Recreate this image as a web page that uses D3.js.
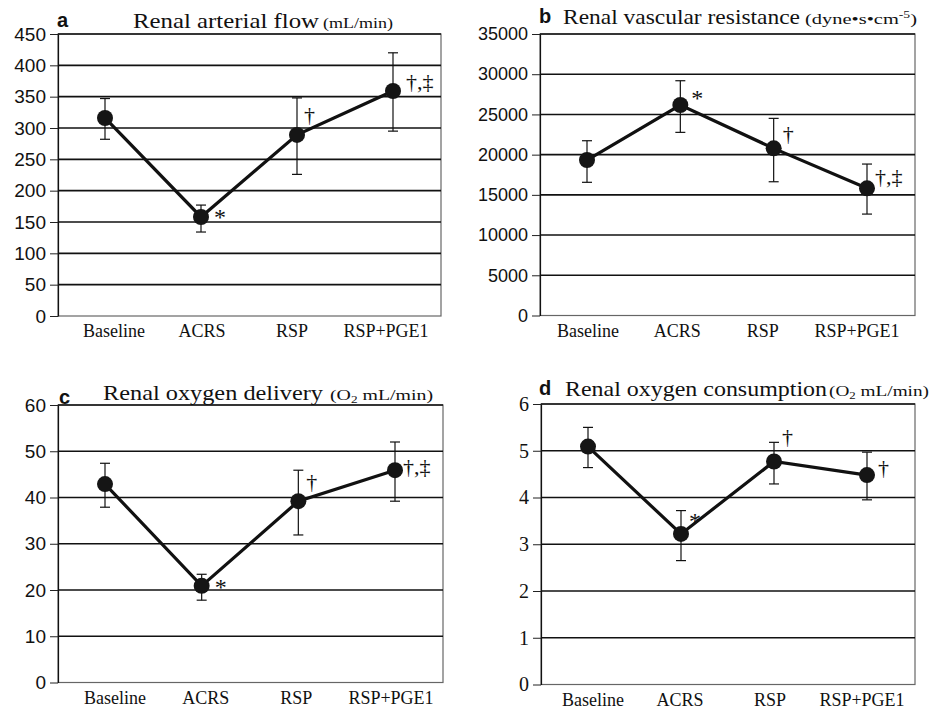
<!DOCTYPE html>
<html>
<head>
<meta charset="utf-8">
<script src="https://cdn.jsdelivr.net/npm/d3@7"></script>
<style>
	body { margin: 0; background: #fff; }
	svg { display: block; }
</style>
</head>
<body>
<div id="chart"></div>
<script>
// categories shared by every panel
const categories = ["Baseline", "ACRS", "RSP", "RSP+PGE1"];

// a: renal arterial flow (mL/min)
const flowMean = [316, 158, 289, 359];
const flowHigh = [347, 177, 348, 420];
const flowLow  = [282, 134, 226, 295];
const flowMarks = ["", "*", "\u2020", "\u2020,\u2021"];
const flowTicks = [0, 50, 100, 150, 200, 250, 300, 350, 400, 450];

// b: renal vascular resistance (dyne s cm-5)
const resMean = [19330, 26170, 20780, 15810];
const resHigh = [21730, 29190, 24510, 18830];
const resLow  = [16560, 22770, 16630, 12610];
const resMarks = ["", "*", "\u2020", "\u2020,\u2021"];
const resTicks = [0, 5000, 10000, 15000, 20000, 25000, 30000, 35000];

// c: renal oxygen delivery (O2 mL/min)
const delMean = [42.9, 20.9, 39.2, 45.9];
const delHigh = [47.4, 23.4, 45.9, 52.0];
const delLow  = [37.9, 17.8, 31.9, 39.2];
const delMarks = ["", "*", "\u2020", "\u2020,\u2021"];
const delTicks = [0, 10, 20, 30, 40, 50, 60];

// d: renal oxygen consumption (O2 mL/min)
const conMean = [5.09, 3.22, 4.77, 4.48];
const conHigh = [5.50, 3.72, 5.18, 4.97];
const conLow  = [4.64, 2.65, 4.29, 3.95];
const conMarks = ["", "*", "\u2020", "\u2020"];
const conTicks = [0, 1, 2, 3, 4, 5, 6];

function main() {

	const W = 944, H = 710;
	const serif = "'Liberation Serif', 'Times New Roman', serif";
	const sans  = "'Liberation Sans', Arial, sans-serif";

	var svg = d3.select("#chart")
		.append("svg")
		.attr("width", W)
		.attr("height", H);

	// layout of each panel
	var panels = [
		{letter: "a", title: "Renal arterial flow", units: [["(mL/min)", ""]],
			mean: flowMean, high: flowHigh, low: flowLow, marks: flowMarks, ticks: flowTicks,
			left: 58, right: 441, top: 34, bottom: 316, tickFont: sans, tickSize: 19,
			letterX: 57, letterY: 27, titleX: 133, titleW: 186, unitsX: 323, unitsW: 70, titleY: 28,
			labelShift: [9, 1, -5, -7],
			markOff: [[0, 0], [13, 8], [7, -13], [13, -2]]},
		{letter: "b", title: "Renal vascular resistance", units: [["(dyne\u2022s\u2022cm", ""], ["-5", "sup"], [")", ""]],
			mean: resMean, high: resHigh, low: resLow, marks: resMarks, ticks: resTicks,
			left: 540, right: 915, top: 34, bottom: 315.5, tickFont: sans, tickSize: 18,
			letterX: 539, letterY: 23, titleX: 563, titleW: 237, unitsX: 805, unitsW: 112, titleY: 24,
			labelShift: [1, -3, -11, -10],
			markOff: [[0, 0], [11, 1], [9, -7], [8, -4]]},
		{letter: "c", title: "Renal oxygen delivery", units: [["(O", ""], ["2", "sub"], [" mL/min)", ""]],
			mean: delMean, high: delHigh, low: delLow, marks: delMarks, ticks: delTicks,
			left: 58, right: 443, top: 405, bottom: 682.5, tickFont: sans, tickSize: 19,
			letterX: 59, letterY: 404, titleX: 103, titleW: 220, unitsX: 330, unitsW: 103, titleY: 400,
			labelShift: [10, 4, -2, -4],
			markOff: [[0, 0], [13, 9], [8, -12], [8, 4]]},
		{letter: "d", title: "Renal oxygen consumption", units: [["(O", ""], ["2", "sub"], [" mL/min)", ""]],
			mean: conMean, high: conHigh, low: conLow, marks: conMarks, ticks: conTicks,
			left: 541, right: 915, top: 404, bottom: 684.5, tickFont: serif, tickSize: 20,
			letterX: 539, letterY: 395, titleX: 565, titleW: 262, unitsX: 829, unitsW: 100, titleY: 396,
			labelShift: [5, -1, -4, -5],
			markOff: [[0, 0], [8, -5], [8, -18], [11, 0]]}
	];

	panels.forEach(function(p) {

		var x = d3.scalePoint()
			.domain(categories)
			.range([p.left + 47, p.right - 48]);

		var y = d3.scaleLinear()
			.domain([0, d3.max(p.ticks)])
			.range([p.bottom, p.top]);

		var g = svg.append("g");

		// frame
		g.append("rect")
			.attr("x", p.left)
			.attr("y", p.top)
			.attr("width", p.right - p.left)
			.attr("height", p.bottom - p.top)
			.attr("fill", "none")
			.attr("stroke", "#666")
			.attr("stroke-width", 1.2);

		// horizontal grid lines
		g.selectAll(".grid")
			.data(p.ticks.filter(function(t) { return t > 0; }))
			.enter()
			.append("line")
			.attr("x1", p.left)
			.attr("x2", p.right)
			.attr("y1", function(d) { return y(d); })
			.attr("y2", function(d) { return y(d); })
			.attr("stroke", "#111")
			.attr("stroke-width", 1.6);

		// y axis
		var yAxis = g.append("g")
			.attr("transform", "translate(" + p.left + ",0)")
			.call(d3.axisLeft(y).tickValues(p.ticks).tickSize(8).tickPadding(4).tickSizeOuter(0).tickFormat(d3.format("d")));
		yAxis.select(".domain").attr("stroke", "#111").attr("stroke-width", 1.2);
		yAxis.selectAll(".tick line").attr("stroke", "#222").attr("stroke-width", 1);
		yAxis.selectAll(".tick text")
			.attr("font-family", p.tickFont)
			.attr("font-size", p.tickSize)
			.attr("fill", "#111");

		// category labels
		g.selectAll(".cat")
			.data(categories)
			.enter()
			.append("text")
			.attr("x", function(d, i) { return x(d) + p.labelShift[i]; })
			.attr("y", p.bottom + 21)
			.attr("text-anchor", "middle")
			.attr("font-family", serif)
			.attr("font-size", 18)
			.attr("fill", "#111")
			.text(function(d) { return d; });

		// error bars
		var bars = g.selectAll(".err")
			.data(categories)
			.enter()
			.append("g");
		bars.append("line")
			.attr("x1", function(d) { return x(d); })
			.attr("x2", function(d) { return x(d); })
			.attr("y1", function(d, i) { return y(p.high[i]); })
			.attr("y2", function(d, i) { return y(p.low[i]); })
			.attr("stroke", "#111")
			.attr("stroke-width", 1.2);
		[p.high, p.low].forEach(function(arr) {
			bars.append("line")
				.attr("x1", function(d) { return x(d) - 5; })
				.attr("x2", function(d) { return x(d) + 5; })
				.attr("y1", function(d, i) { return y(arr[i]); })
				.attr("y2", function(d, i) { return y(arr[i]); })
				.attr("stroke", "#111")
				.attr("stroke-width", 1.2);
		});

		// mean line
		var line = d3.line()
			.x(function(d, i) { return x(categories[i]); })
			.y(function(d) { return y(d); });
		g.append("path")
			.datum(p.mean)
			.attr("d", line)
			.attr("fill", "none")
			.attr("stroke", "#111")
			.attr("stroke-width", 3.2);

		// markers
		g.selectAll(".pt")
			.data(p.mean)
			.enter()
			.append("circle")
			.attr("cx", function(d, i) { return x(categories[i]); })
			.attr("cy", function(d) { return y(d); })
			.attr("r", 8)
			.attr("fill", "#151515");

		// significance marks
		g.selectAll(".mark")
			.data(p.marks)
			.enter()
			.append("text")
			.attr("x", function(d, i) { return x(categories[i]) + p.markOff[i][0]; })
			.attr("y", function(d, i) { return y(p.mean[i]) + p.markOff[i][1]; })
			.attr("font-family", serif)
			.attr("font-size", function(d) { return d === "*" ? 24 : 22; })
			.attr("fill", "#111")
			.text(function(d) { return d; });

		// panel letter and title
		svg.append("text")
			.attr("x", p.letterX)
			.attr("y", p.letterY)
			.attr("font-family", sans)
			.attr("font-weight", "bold")
			.attr("font-size", 20)
			.attr("fill", "#111")
			.text(p.letter);

		svg.append("text")
			.attr("x", p.titleX)
			.attr("y", p.titleY)
			.attr("font-family", serif)
			.attr("font-size", 21)
			.attr("textLength", p.titleW)
			.attr("lengthAdjust", "spacingAndGlyphs")
			.attr("fill", "#111")
			.text(p.title);

		var u = svg.append("text")
			.attr("x", p.unitsX)
			.attr("y", p.titleY)
			.attr("font-family", serif)
			.attr("font-size", 15)
			.attr("textLength", p.unitsW)
			.attr("lengthAdjust", "spacingAndGlyphs")
			.attr("fill", "#111");
		p.units.forEach(function(part, i) {
			var t = u.append("tspan").text(part[0]);
			if (part[1] === "sup") t.attr("font-size", 10).attr("dy", -6);
			if (part[1] === "sub") t.attr("font-size", 10).attr("dy", 3);
			// back to the baseline after a raised or lowered part
			var prev = p.units[i - 1];
			if (part[1] === "" && prev && prev[1] === "sup") t.attr("dy", 6);
			if (part[1] === "" && prev && prev[1] === "sub") t.attr("dy", -3);
		});
	});
}

function whenDocumentLoaded(action) {
	if (document.readyState === "loading") {
		document.addEventListener("DOMContentLoaded", action);
	} else {
		action();
	}
}

whenDocumentLoaded(() => {
	main()
});
</script>
</body>
</html>
